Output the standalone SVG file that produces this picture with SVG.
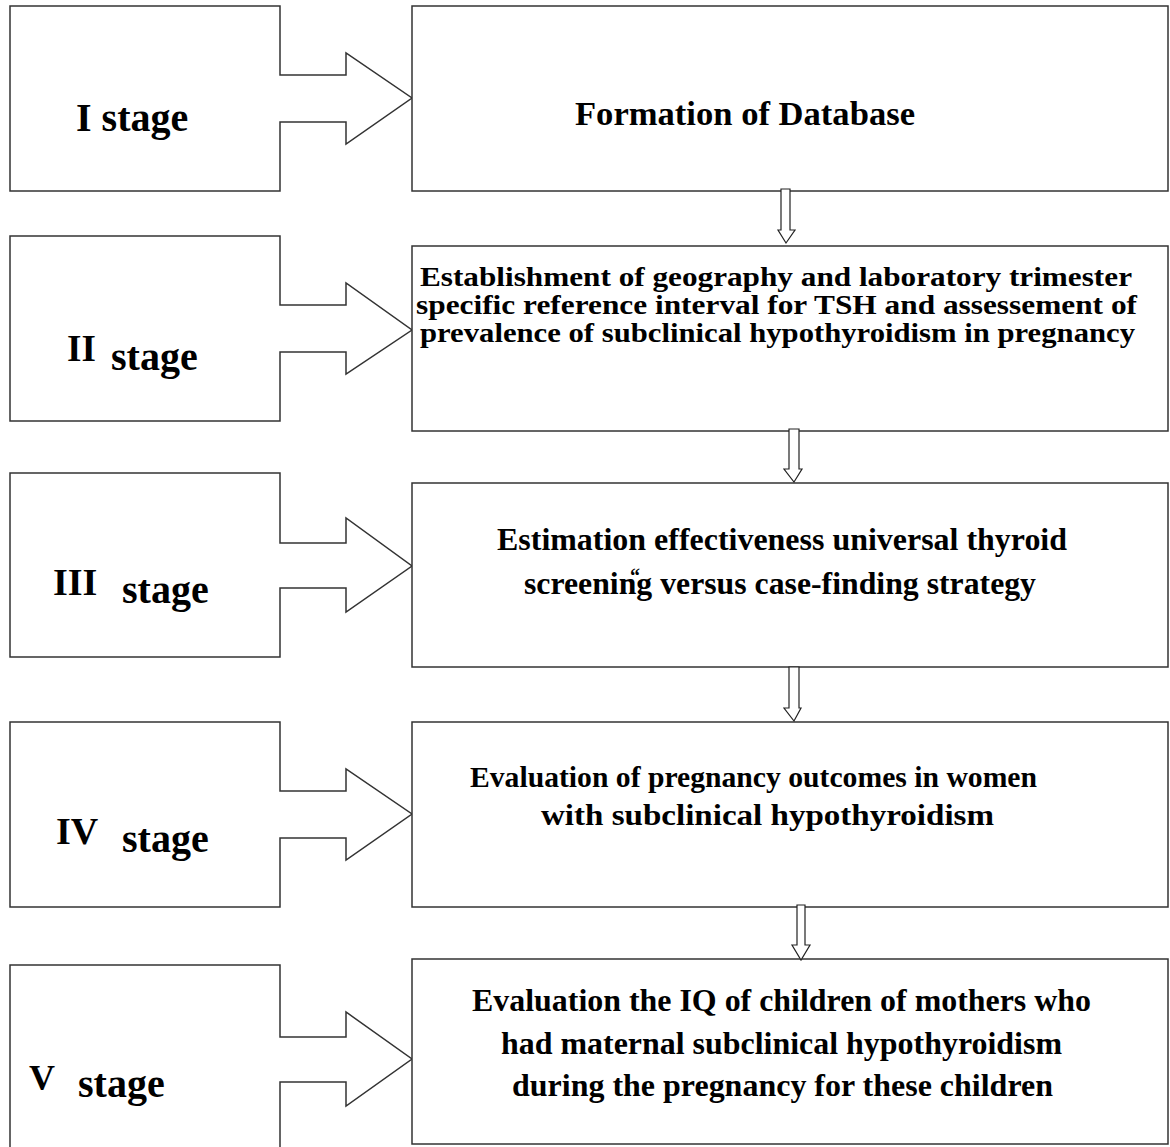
<svg xmlns="http://www.w3.org/2000/svg" width="1170" height="1147" viewBox="0 0 1170 1147">
<style>
.shape{fill:#fff;stroke:#333;stroke-width:1.5}
.arr{fill:#fff;stroke:#222;stroke-width:1.2}
text{font-family:"Liberation Serif","Times New Roman",serif;font-weight:bold;fill:#000}
.st{font-size:40px}
.b1{font-size:34px}
.b2{font-size:28px}
.b3{font-size:32px}
.b4{font-size:30px}
.b5{font-size:32px}
.q{font-size:20px}
</style>
<rect width="1170" height="1147" fill="#fff"/>
<g id="stage1">
<path class="shape" d="M10,6 H280 V75 H346 V53 L412,98 L346,144 V122 H280 V191 H10 Z"/>
<text class="st" x="76" y="131">I stage</text>
</g>
<g id="box1">
<rect class="shape" x="412" y="6" width="756" height="185"/>
<text class="b1" x="575" y="125" textLength="340" lengthAdjust="spacingAndGlyphs">Formation of Database</text>
</g>
<g id="stage2">
<path class="shape" d="M10,236 H280 V305 H346 V283 L412,330 L346,374 V352 H280 V421 H10 Z"/>
<text class="st" x="67" y="361" style="font-size:37px">II</text>
<text class="st" x="111" y="370">stage</text>
</g>
<g id="box2">
<rect class="shape" x="412" y="246" width="756" height="185"/>
<text class="b2" x="420" y="286" textLength="712" lengthAdjust="spacingAndGlyphs">Establishment of geography and laboratory trimester</text>
<text class="b2" x="416" y="314" textLength="721" lengthAdjust="spacingAndGlyphs">specific reference interval for TSH and assessement of</text>
<text class="b2" x="420" y="342" textLength="715" lengthAdjust="spacingAndGlyphs">prevalence of subclinical hypothyroidism in pregnancy</text>
</g>
<g id="stage3">
<path class="shape" d="M10,473 H280 V543 H346 V518 L412,566 L346,612 V588 H280 V657 H10 Z"/>
<text class="st" x="53" y="595" style="font-size:38px">III</text>
<text class="st" x="122" y="603">stage</text>
</g>
<g id="box3">
<rect class="shape" x="412" y="483" width="756" height="184"/>
<text class="b3" x="497" y="550" textLength="570" lengthAdjust="spacingAndGlyphs">Estimation effectiveness universal thyroid</text>
<text class="b3" x="524" y="594" textLength="512" lengthAdjust="spacingAndGlyphs">screening versus case-finding strategy</text>
<text class="q" x="630" y="583">“</text>
</g>
<g id="stage4">
<path class="shape" d="M10,722 H280 V791 H346 V769 L412,814 L346,860 V838 H280 V907 H10 Z"/>
<text class="st" x="56" y="844" style="font-size:38px">IV</text>
<text class="st" x="122" y="852">stage</text>
</g>
<g id="box4">
<rect class="shape" x="412" y="722" width="756" height="185"/>
<text class="b4" x="470" y="787" textLength="567" lengthAdjust="spacingAndGlyphs">Evaluation of pregnancy outcomes in women</text>
<text class="b4" x="541" y="825" textLength="453" lengthAdjust="spacingAndGlyphs">with subclinical hypothyroidism</text>
</g>
<g id="stage5">
<path class="shape" d="M280,1150 V1082 H346 V1106 L412,1059 L346,1012 V1037 H280 V965 H10 V1150"/>
<text class="st" x="29" y="1090" style="font-size:36px">V</text>
<text class="st" x="78" y="1097">stage</text>
</g>
<g id="box5">
<rect class="shape" x="412" y="959" width="756" height="185"/>
<text class="b5" x="472" y="1011" textLength="619" lengthAdjust="spacingAndGlyphs">Evaluation the IQ of children of mothers who</text>
<text class="b5" x="501" y="1054" textLength="561" lengthAdjust="spacingAndGlyphs">had maternal subclinical hypothyroidism</text>
<text class="b5" x="512" y="1096" textLength="541" lengthAdjust="spacingAndGlyphs">during the pregnancy for these children</text>
</g>
<g id="connectors">
<path class="arr" d="M781,189 H790 V230 H795 L786,243 L778,230 H781 Z"/>
<path class="arr" d="M789,429 H799 V469 H802 L794,482 L784,469 H789 Z"/>
<path class="arr" d="M789,667 H799 V708 H801 L794,721 L784,708 H789 Z"/>
<path class="arr" d="M797,905 H805 V945 H810 L801,960 L792,945 H797 Z"/>
</g>
</svg>
